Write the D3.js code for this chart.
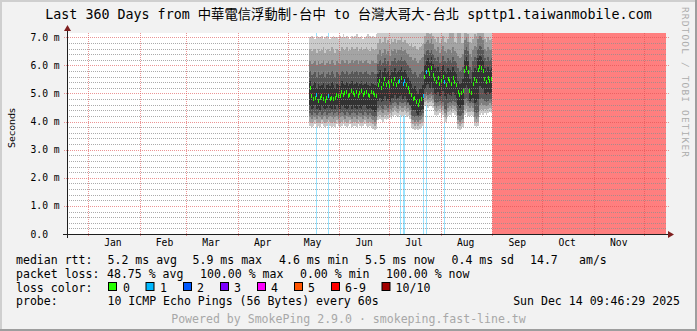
<!DOCTYPE html>
<html><head><meta charset="utf-8">
<script src="https://cdn.jsdelivr.net/npm/d3@7/dist/d3.min.js"></script>
<style>
html,body{margin:0;padding:0;background:#f2f2f2;}
svg{display:block;}
text{font-family:"DejaVu Sans Mono","Noto Sans CJK TC",monospace;}
</style></head><body>
<svg id="c" width="697" height="331"></svg>
<script>
// ---------------- data ----------------
const titleText = "Last 360 Days from 中華電信浮動制-台中 to 台灣大哥大-台北 spttp1.taiwanmobile.com";
const endTime = new Date(2025, 11, 14, 9, 46, 29);
const spanDays = 360;
const firstDay = new Date(2025, 4, 14);   // first day with measurements (daily values below)

// daily median rtt (ms), May 14 .. Aug 31
const median = [
 5.2,4.9,4.8,4.85,4.95,4.75,4.85,4.9,4.8,4.75, 4.85,4.9,4.8,4.85,4.8,4.85,4.95,4.9,4.9,5.05,
 4.95,5.0,5.05,4.9,4.95,5.1,5.0,4.95,5.05,4.9, 5.0,5.1,4.95,5.0,5.05,4.95,4.9,5.05,5.0,4.95, 4.9,
 5.3,5.45,5.2,5.35,5.5,5.3,5.4,5.25,5.45,
 5.35,5.5,5.3,5.4,5.45,5.55,5.35,5.45,5.3,5.2,5.05,
 4.95,4.8,4.85,4.7,4.6,4.75,4.8,4.9,
 5.6,5.75,5.85,5.7,5.9,5.65,
 5.5,5.4,5.55,5.35,5.45,5.6,5.4,5.3,5.5,5.45,5.35,5.55,5.4,5.3,
 5.05,4.95,5.0,5.1,
 5.8,5.9,5.75,
 5.1,5.0,5.35,5.5,5.45,
 5.85,5.95,5.9,5.8,
 5.5,5.4,5.55,5.45,5.5];

// sorted ping ranks (ms), daily averages: p1 = fastest ... p10 = slowest
const p1 = [
 3.85,3.8,3.85,3.9,3.8,3.85,3.8,3.9,3.85,3.8, 3.85,3.9,3.85,3.8,3.85,3.8,3.9,3.85,3.8,3.85,
 3.9,3.85,3.8,3.85,3.9,3.8,3.85,3.85,3.8,3.9, 3.85,3.8,3.85,3.9,3.85,3.8,3.85,3.8,3.75,3.7, 3.75,
 4.05,4.1,4.05,4.0,4.1,4.05,4.1,4.15,4.1,
 4.2,4.25,4.2,4.15,4.25,4.2,4.2,4.25,4.15,4.2,4.1,
 3.8,3.75,3.7,3.75,3.7,3.75,3.8,3.85,
 4.55,4.6,4.5,4.55,4.6,4.5,
 4.25,4.2,4.25,4.3,4.2,4.25,4.0,3.95,4.2,4.25,4.2,4.3,4.25,4.2,
 3.75,3.7,3.75,3.8,
 4.25,4.3,4.2,
 4.2,4.25,4.2,3.85,3.8,
 3.85,4.25,4.3,4.25,
 4.3,4.25,4.3,4.35,4.3];
const p2 = [
 4.0,3.95,4.0,4.05,3.95,4.0,3.95,4.05,4.0,3.95, 4.0,4.05,4.0,3.95,4.0,3.95,4.05,4.0,3.95,4.0,
 4.05,4.0,3.95,4.0,4.05,3.95,4.0,4.0,3.95,4.05, 4.0,3.95,4.0,4.05,4.0,3.95,4.0,3.95,3.9,3.85, 3.9,
 4.2,4.25,4.2,4.15,4.25,4.2,4.25,4.3,4.25,
 4.35,4.4,4.35,4.3,4.4,4.35,4.35,4.4,4.3,4.35,4.25,
 3.95,3.9,3.85,3.9,3.85,3.9,3.95,4.0,
 4.7,4.75,4.65,4.7,4.75,4.65,
 4.4,4.35,4.4,4.45,4.35,4.4,4.15,4.1,4.35,4.4,4.35,4.45,4.4,4.35,
 3.9,3.85,3.9,3.95,
 4.4,4.45,4.35,
 4.35,4.4,4.35,4.0,3.95,
 4.0,4.4,4.45,4.4,
 4.45,4.4,4.45,4.5,4.45];
const p3 = [
 4.15,4.1,4.2,4.15,4.1,4.2,4.15,4.1,4.15,4.2, 4.1,4.15,4.2,4.15,4.1,4.15,4.2,4.1,4.15,4.2,
 4.15,4.1,4.2,4.15,4.15,4.1,4.2,4.15,4.1,4.2, 4.15,4.15,4.1,4.2,4.15,4.1,4.15,4.1,4.05,4.0, 4.05,
 4.35,4.4,4.35,4.3,4.4,4.4,4.35,4.45,4.4,
 4.5,4.55,4.5,4.45,4.55,4.5,4.5,4.55,4.45,4.5,4.4,
 4.1,4.05,4.0,4.05,4.0,4.05,4.1,4.15,
 4.85,4.9,4.8,4.85,4.9,4.8,
 4.55,4.5,4.55,4.6,4.5,4.55,4.3,4.25,4.5,4.55,4.5,4.6,4.55,4.5,
 4.05,4.0,4.05,4.1,
 4.6,4.65,4.55,
 4.5,4.55,4.5,4.15,4.1,
 4.15,4.6,4.65,4.6,
 4.6,4.55,4.6,4.65,4.6];
const p4 = [
 4.3,4.25,4.35,4.3,4.25,4.3,4.35,4.25,4.3,4.35, 4.25,4.3,4.3,4.35,4.25,4.3,4.35,4.25,4.3,4.35,
 4.3,4.25,4.35,4.3,4.25,4.3,4.35,4.3,4.25,4.35, 4.3,4.3,4.25,4.35,4.3,4.25,4.3,4.25,4.2,4.15, 4.2,
 4.5,4.55,4.5,4.45,4.6,4.55,4.5,4.6,4.55,
 4.65,4.7,4.65,4.6,4.7,4.65,4.65,4.7,4.6,4.65,4.55,
 4.25,4.2,4.15,4.2,4.15,4.2,4.25,4.3,
 5.0,5.05,4.95,5.0,5.05,4.95,
 4.7,4.65,4.7,4.75,4.65,4.7,4.45,4.4,4.65,4.7,4.65,4.75,4.7,4.65,
 4.25,4.2,4.25,4.3,
 4.8,4.85,4.75,
 4.65,4.7,4.65,4.35,4.3,
 4.35,4.8,4.85,4.8,
 4.75,4.7,4.75,4.8,4.75];
const p5 = [
 4.55,4.45,4.5,4.6,4.45,4.5,4.4,4.55,4.5,4.45, 4.5,4.6,4.5,4.45,4.55,4.45,4.6,4.5,4.45,4.55,
 4.6,4.5,4.45,4.5,4.6,4.45,4.55,4.5,4.45,4.6, 4.5,4.45,4.55,4.6,4.5,4.45,4.5,4.45,4.4,4.35, 4.4,
 4.75,4.85,4.7,4.75,4.9,4.75,4.8,4.7,4.85,
 4.85,4.95,4.8,4.85,4.9,4.95,4.8,4.9,4.8,4.7,4.6,
 4.5,4.4,4.4,4.3,4.25,4.35,4.4,4.45,
 5.15,5.3,5.35,5.2,5.4,5.2,
 5.0,4.95,5.05,4.9,4.95,5.1,4.9,4.8,5.0,4.95,4.9,5.05,4.95,4.85,
 4.55,4.5,4.55,4.6,
 5.2,5.3,5.15,
 4.75,4.8,4.85,4.65,4.7,
 4.8,5.25,5.2,5.15,
 5.0,4.95,5.05,5.0,5.05];
const p6 = [
 5.45,5.25,5.3,5.4,5.2,5.35,5.25,5.3,5.4,5.2, 5.3,5.35,5.25,5.4,5.3,5.2,5.35,5.3,5.25,5.45,
 5.35,5.3,5.4,5.25,5.35,5.45,5.3,5.35,5.4,5.25, 5.35,5.45,5.3,5.35,5.4,5.3,5.25,5.4,5.35,5.3, 5.25,
 5.7,5.85,5.6,5.75,5.9,5.7,5.8,5.65,5.85,
 5.75,5.9,5.7,5.8,5.85,5.95,5.75,5.85,5.7,5.6,5.45,
 5.35,5.2,5.25,5.1,5.0,5.15,5.2,5.3,
 6.0,6.15,6.25,6.1,6.3,6.05,
 5.9,5.8,5.95,5.75,5.85,6.0,5.8,5.7,5.9,5.85,5.75,5.95,5.8,5.7,
 5.45,5.35,5.4,5.5,
 6.2,6.3,6.15,
 5.5,5.4,5.75,5.9,5.85,
 6.25,6.35,6.3,6.2,
 5.9,5.8,5.95,5.85,5.9];
const p7 = [
 5.8,5.65,5.7,5.75,5.6,5.75,5.65,5.7,5.8,5.6, 5.7,5.75,5.65,5.8,5.7,5.6,5.75,5.7,5.65,5.8,
 5.75,5.7,5.8,5.65,5.7,5.8,5.7,5.75,5.8,5.65, 5.75,5.8,5.7,5.75,5.8,5.7,5.65,5.8,5.75,5.7, 5.7,
 6.05,6.2,6.0,6.1,6.25,6.05,6.15,6.0,6.2,
 6.15,6.25,6.1,6.2,6.2,6.3,6.15,6.2,6.1,6.0,5.9,
 5.85,5.7,5.75,5.65,5.6,5.7,5.75,5.8,
 6.4,6.5,6.55,6.45,6.6,6.4,
 6.25,6.15,6.3,6.1,6.2,6.35,6.15,6.1,6.25,6.2,6.1,6.3,6.15,6.1,
 5.9,5.8,5.85,5.95,
 6.55,6.65,6.5,
 5.95,5.85,6.15,6.3,6.25,
 6.6,6.7,6.65,6.55,
 6.25,6.15,6.3,6.2,6.25];
const p8 = [
 6.15,6.05,6.1,6.15,6.0,6.15,6.05,6.1,6.2,6.0, 6.1,6.15,6.05,6.2,6.1,6.0,6.15,6.1,6.05,6.2,
 6.15,6.1,6.2,6.05,6.1,6.2,6.1,6.15,6.2,6.05, 6.15,6.2,6.1,6.15,6.2,6.1,6.05,6.2,6.15,6.1, 6.1,
 6.4,6.55,6.35,6.45,6.6,6.4,6.5,6.35,6.55,
 6.5,6.6,6.45,6.55,6.55,6.65,6.5,6.55,6.45,6.4,6.3,
 6.3,6.2,6.25,6.15,6.1,6.2,6.25,6.3,
 6.75,6.85,6.9,6.8,6.95,6.75,
 6.6,6.5,6.65,6.45,6.55,6.7,6.5,6.45,6.6,6.55,6.45,6.65,6.5,6.45,
 6.35,6.25,6.3,6.4,
 6.9,7.0,6.85,
 6.4,6.3,6.55,6.7,6.65,
 6.95,7.05,7.0,6.9,
 6.6,6.5,6.65,6.55,6.6];
const p9 = [
 6.6,6.5,6.55,6.6,6.45,6.6,6.5,6.55,6.65,6.45, 6.55,6.6,6.5,6.65,6.55,6.45,6.6,6.55,6.5,6.65,
 6.6,6.55,6.65,6.5,6.55,6.65,6.55,6.6,6.65,6.5, 6.6,6.65,6.55,6.6,6.65,6.55,6.5,6.65,6.6,6.55, 6.6,
 6.8,6.95,6.75,6.85,7.0,6.8,6.9,6.75,6.95,
 6.85,6.95,6.8,6.9,6.9,7.0,6.85,6.9,6.8,6.75,6.7,
 6.75,6.65,6.7,6.6,6.55,6.65,6.7,6.75,
 7.05,7.15,7.2,7.1,7.2,7.05,
 6.95,6.85,7.0,6.8,6.9,7.05,6.85,6.8,6.95,7.2,7.15,7.2,6.85,6.8,
 7.2,7.15,6.75,6.8,
 7.15,7.2,7.1,
 6.85,6.75,6.95,7.1,7.05,
 7.2,7.25,7.2,7.15,
 6.95,6.85,7.0,6.9,6.95];
const p10 = [
 7.0,7.05,7.0,6.95,7.05,7.0,7.0,7.05,6.95,7.0, 7.05,7.0,6.95,7.0,7.05,7.0,7.0,6.95,7.05,7.0,
 7.1,7.0,7.05,7.0,6.95,7.05,7.0,7.05,7.1,7.0, 7.0,7.05,6.95,7.0,7.05,7.1,7.05,7.0,7.05,7.0, 7.1,
 7.2,7.25,7.3,7.25,7.3,7.2,7.3,7.25,7.3,
 7.3,7.25,7.3,7.3,7.25,7.3,7.3,7.3,7.25,7.3,7.3,
 7.3,7.3,7.25,7.3,7.3,7.3,7.25,7.3,
 7.35,7.4,7.4,7.35,7.4,7.35,
 7.3,7.3,7.35,7.3,7.3,7.35,7.3,7.3,7.3,7.4,7.35,7.4,7.3,7.3,
 7.35,7.35,7.3,7.3,
 7.4,7.4,7.35,
 7.3,7.3,7.35,7.35,7.35,
 7.4,7.4,7.4,7.35,
 7.3,7.3,7.35,7.3,7.3];

// days (index from firstDay) with a lost ping, and pings lost
const lossDayIndex = [4, 11, 54, 56, 57, 68, 70, 81];
const lossDayPings = [1, 1, 1, 1, 1, 1, 1, 1];
// total outage period (10/10 lost)
const outageStart = [new Date(2025, 8, 1)];
const outageEnd = [endTime];

const yTickValues = [0, 1, 2, 3, 4, 5, 6, 7];
const yTickLabels = ["0.0", "1.0 m", "2.0 m", "3.0 m", "4.0 m", "5.0 m", "6.0 m", "7.0 m"];
const yMax = 7.153;

const lossClasses = ["0", "1", "2", "3", "4", "5", "6-9", "10/10"];
const lossColors = ["#26ff00", "#00b8ff", "#0059ff", "#7e00ff", "#ff00ff", "#ff5500", "#ff0000", "#a10000"];
const outageColor = "#ff0000";

const rttStats = ["5.2 ms avg", "5.9 ms max", "4.6 ms min", "5.5 ms now", "0.4 ms sd", "14.7", "am/s"];
const lossStats = ["48.75 % avg", "100.00 % max", "0.00 % min", "100.00 % now"];
const probeText = "10 ICMP Echo Pings (56 Bytes) every 60s";
const stampText = "Sun Dec 14 09:46:29 2025";
const footerText = "Powered by SmokePing 2.9.0 · smokeping.fast-line.tw";
const sideText = "RRDTOOL / TOBI OETIKER";

// ---------------- layout ----------------
const W = 697, H = 331;
const L = 67, R = 666, T = 33, B = 234;
const svg = d3.select("#c");
const startTime = d3.timeDay.offset(endTime, -spanDays);
const x = d3.scaleTime().domain([startTime, endTime]).range([L, R]);
const y = d3.scaleLinear().domain([0, yMax]).range([B, T]);

// background + frame
svg.append("rect").attr("width", W).attr("height", H).attr("fill", "#f2f2f2");
svg.append("rect").attr("x", 0).attr("y", 0).attr("width", W).attr("height", 2).attr("fill", "#cfcfcf");
svg.append("rect").attr("x", 0).attr("y", 0).attr("width", 2).attr("height", H).attr("fill", "#cfcfcf");
svg.append("rect").attr("x", 0).attr("y", H - 2).attr("width", W).attr("height", 2).attr("fill", "#9e9e9e");
svg.append("rect").attr("x", W - 2).attr("y", 0).attr("width", 2).attr("height", H).attr("fill", "#9e9e9e");

svg.append("defs").append("clipPath").attr("id", "clip")
  .append("rect").attr("x", L).attr("y", T).attr("width", R - L).attr("height", B - T);

svg.append("rect").attr("x", L).attr("y", T).attr("width", R - L).attr("height", B - T).attr("fill", "#ffffff");

const plot = svg.append("g").attr("clip-path", "url(#clip)");

// loss background
lossDayIndex.forEach((di, k) => {
  const d = d3.timeDay.offset(firstDay, di);
  plot.append("rect")
    .attr("x", Math.round(x(d) + 0.4)).attr("y", T).attr("width", 1).attr("height", B - T)
    .attr("fill", lossColors[Math.min(lossDayPings[k], 6)]).attr("fill-opacity", 0.4);
});
outageStart.forEach((s, k) => {
  plot.append("rect")
    .attr("x", x(s)).attr("y", T).attr("width", x(outageEnd[k]) - x(s)).attr("height", B - T)
    .attr("fill", outageColor).attr("fill-opacity", 0.5);
});

// smoke
const pings = [p1, p2, p3, p4, p5, p6, p7, p8, p9, p10];
const rows = median.map((m, i) => ({ date: d3.timeDay.offset(firstDay, i), m, p: pings.map(a => a[i]) }));
const areaRows = rows.concat([{ date: d3.timeDay.offset(firstDay, rows.length), p: rows[rows.length - 1].p }]);
const greys = ["#cacaca", "#a4a4a4", "#7e7e7e", "#585858", "#323232"];
greys.forEach((g, k) => {
  const area = d3.area()
    .x(d => x(d.date))
    .y0(d => y(d.p[k]))
    .y1(d => y(d.p[9 - k]))
    .curve(d3.curveStepAfter);
  plot.append("path").datum(areaRows).attr("d", area).attr("fill", g).attr("shape-rendering", "crispEdges");
});

// grid
const gridG = svg.append("g");
const minorColor = "rgba(143,143,143,0.75)";
const majorColor = "rgba(222,79,79,0.6)";
d3.range(1, 36).filter(k => k % 5 !== 0).forEach(k => {
  const yy = Math.round(y(k * 0.2)) + 0.5;
  gridG.append("line").attr("x1", L).attr("x2", R).attr("y1", yy).attr("y2", yy)
    .attr("stroke", minorColor).attr("stroke-dasharray", "1,1");
});
yTickValues.filter(v => v > 0).forEach(v => {
  const yy = Math.round(y(v)) + 0.5;
  gridG.append("line").attr("x1", L - 3).attr("x2", R + 3).attr("y1", yy).attr("y2", yy)
    .attr("stroke", majorColor).attr("stroke-dasharray", "1,1");
});
const months = d3.timeMonth.range(d3.timeMonth.ceil(startTime), endTime);
months.forEach(m => {
  const xx = Math.round(x(m)) + 0.5;
  gridG.append("line").attr("x1", xx).attr("x2", xx).attr("y1", T).attr("y2", B + 3)
    .attr("stroke", majorColor).attr("stroke-dasharray", "1,1");
});

// median line, coloured by loss (short dashes per day)
const lossByDay = new Map(lossDayIndex.map((d, k) => [d, lossDayPings[k]]));
const medG = svg.append("g").attr("clip-path", "url(#clip)").attr("shape-rendering", "crispEdges");
rows.forEach((r, i) => {
  const xa = Math.round(x(r.date) + 0.3);
  const ym = Math.round(y(r.m));
  const lc = lossByDay.has(i) ? lossColors[Math.min(lossByDay.get(i), 6)] : lossColors[0];
  medG.append("rect").attr("x", xa).attr("y", ym - 2).attr("width", 1)
    .attr("height", 4).attr("fill", lc);
});

// axes
const axisColor = "#1f1f1f", arrowColor = "#7f1f1f";
svg.append("line").attr("x1", L - 4).attr("x2", R + 3).attr("y1", B + 0.5).attr("y2", B + 0.5).attr("stroke", axisColor);
svg.append("line").attr("x1", L + 0.5).attr("x2", L + 0.5).attr("y1", B + 4).attr("y2", T - 3).attr("stroke", axisColor);
svg.append("path").attr("d", `M${R + 2},${B - 3}L${R + 8},${B + 0.5}L${R + 2},${B + 4}Z`).attr("fill", arrowColor);
svg.append("path").attr("d", `M${L - 3},${T - 2}L${L + 0.5},${T - 8}L${L + 4},${T - 2}Z`).attr("fill", arrowColor);

// y labels
yTickValues.forEach((v, k) => {
  svg.append("text").attr("x", 30.5).attr("y", y(v) + 3.5)
    .attr("font-size", "9.7px").attr("fill", "#000").text(yTickLabels[k]);
});
// month labels (centred mid-month)
months.concat([d3.timeMonth.floor(startTime)]).forEach(m => {
  const c = d3.timeDay.offset(m, 15);
  if (c < startTime || c > endTime) return;
  svg.append("text").attr("x", x(c)).attr("y", 245.5).attr("text-anchor", "middle")
    .attr("font-size", "9.7px").attr("fill", "#000").text(d3.timeFormat("%b")(m));
});

// y title
svg.append("text").attr("transform", "translate(15,128) rotate(-90)")
  .attr("text-anchor", "middle").attr("font-size", "9.5px")
  .style("font-family", "'DejaVu Sans',sans-serif").attr("fill", "#000").text("Seconds");

// title
svg.append("text").attr("x", W / 2).attr("y", 19).attr("text-anchor", "middle")
  .attr("font-size", "13.33px").attr("fill", "#000").text(titleText);

// side text
svg.append("text").attr("transform", "translate(681.5,7) rotate(90)")
  .attr("font-size", "9.5px").attr("fill", "#ababab")
  .attr("textLength", 150).attr("lengthAdjust", "spacing").text(sideText);

// legend
const LF = "11.55px";
function lt(xp, yp, s, anchor, fill) {
  return svg.append("text").attr("x", xp).attr("y", yp).attr("font-size", LF)
    .attr("text-anchor", anchor || "start").attr("fill", fill || "#000").text(s);
}
const row1 = 263.5, row2 = 277.5, row3 = 291.5, row4 = 305, row5 = 322.5;
lt(16, row1, "median rtt:");
const rttX = [107.5, 192.5, 279, 365, 451.5, 530, 579];
rttStats.forEach((s, k) => lt(rttX[k], row1, s));
lt(16, row2, "packet loss:");
const lossX = [107, 200, 300, 386];
lossStats.forEach((s, k) => lt(lossX[k], row2, s));
lt(16, row3, "loss color:");
const boxX = [108, 145.5, 183, 220, 257, 294, 331, 381.5];
const labX = [123, 160, 197, 234, 271, 308, 345, 395.6];
lossClasses.forEach((c, k) => {
  svg.append("rect").attr("x", boxX[k] + 0.5).attr("y", 282.5).attr("width", 8).attr("height", 8)
    .attr("fill", lossColors[k]).attr("stroke", "#000").attr("stroke-width", 1);
  lt(labX[k], row3, c);
});
lt(16, row4, "probe:");
lt(107.5, row4, probeText);
lt(680, row4, stampText, "end");
lt(W / 2, row5, footerText, "middle", "#a8a8a8");
</script>
</body></html>
